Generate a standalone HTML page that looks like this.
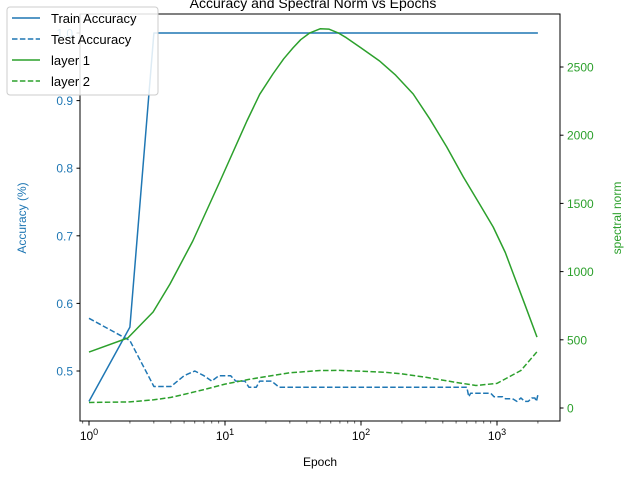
<!DOCTYPE html>
<html><head><meta charset="utf-8"><style>body{margin:0;background:#fff}svg{display:block;font-family:"Liberation Sans","DejaVu Sans",sans-serif}</style></head>
<body>
<svg id="chart" width="640" height="480" viewBox="0 0 640 480" xmlns="http://www.w3.org/2000/svg">
<text x="313" y="8" text-anchor="middle" font-size="14">Accuracy and Spectral Norm vs Epochs</text>
<g id="marks"></g>
<rect x="80" y="14" width="480" height="407" fill="none" stroke="#000" stroke-width="1"/>
<g id="axes" font-size="12"></g>
<text x="320" y="466" text-anchor="middle" font-size="12">Epoch</text>
<text transform="translate(26,218) rotate(-90)" text-anchor="middle" font-size="12" fill="#1f77b4">Accuracy (%)</text>
<text transform="translate(621,218) rotate(-90)" text-anchor="middle" font-size="12" fill="#2ca02c">spectral norm</text>
<g>
<rect x="7" y="7" width="151" height="88" rx="3" fill="#fff" fill-opacity="0.85" stroke="#ccc"/>
<g><line x1="12" y1="18" x2="40" y2="18" stroke="#1f77b4" stroke-width="1.5"/><text x="51" y="23" font-size="13">Train Accuracy</text></g>
<g><line x1="12" y1="39" x2="40" y2="39" stroke="#1f77b4" stroke-width="1.5" stroke-dasharray="5.5,2.4"/><text x="51" y="44" font-size="13">Test Accuracy</text></g>
<g><line x1="12" y1="60" x2="40" y2="60" stroke="#2ca02c" stroke-width="1.5"/><text x="51" y="65" font-size="13">layer 1</text></g>
<g><line x1="12" y1="81" x2="40" y2="81" stroke="#2ca02c" stroke-width="1.5" stroke-dasharray="5.5,2.4"/><text x="51" y="86" font-size="13">layer 2</text></g>
</g>
</svg>
<script>
const trainEpochs=[1,2,3,2000];
const trainAcc=[0.455,0.565,1.0,1.0];
const testEpochs=[1,2,3,4,5,6,7,8,9,10,11,12,14,15,17,18,20,22,25,600,620,640,900,950,1100,1150,1300,1400,1500,1600,1700,1800,1900,1950,2000];
const testAcc=[0.578,0.545,0.477,0.477,0.493,0.5,0.493,0.485,0.493,0.493,0.493,0.485,0.485,0.476,0.476,0.485,0.485,0.485,0.476,0.476,0.462,0.467,0.467,0.462,0.462,0.459,0.459,0.455,0.46,0.455,0.455,0.46,0.46,0.455,0.465];
const l1Epochs=[1,1.93,2.96,3.94,5.8,9.2,14.5,18,22.5,27,31.6,36,42,50,58,68,78,100,137,180,242,320,427,565,750,937,1150,1320,1600,1970];
const layer1=[410,513,704,909,1224,1664,2104,2300,2449,2560,2640,2700,2750,2780,2778,2750,2715,2640,2544,2440,2302,2120,1914,1694,1490,1327,1140,982,760,520];
const normEpochs=[1,2,3,4,5,7,10,15,20,30,50,70,100,150,200,300,500,700,1000,1500,2000];
const layer2=[40,45,60,78,100,135,175,210,230,258,275,276,270,262,250,225,188,165,180,275,420];
const xTicks=[0,1,2,3];
const leftTicks=[0.5,0.6,0.7,0.8,0.9,1.0];
const rightTicks=[0,500,1000,1500,2000,2500];
const NS='http://www.w3.org/2000/svg';
const X=e=>89+136*Math.log10(e);
const YL=v=>371-(v-0.5)*676;
const YR=v=>408-v*0.1364;
const marks=document.getElementById('marks'),axes=document.getElementById('axes');
function mk(t,a,p){const el=document.createElementNS(NS,t);for(const k in a)el.setAttribute(k,a[k]);p.appendChild(el);return el;}
function line(xs,ys,yf,color,dash,name){
  const d=xs.map((e,i)=>(i?'L':'M')+X(e).toFixed(1)+','+yf(ys[i]).toFixed(1)).join(' ');
  const p=mk('path',{d:d,fill:'none',stroke:color,'stroke-width':1.5,'stroke-linejoin':'round'},marks);
  if(dash)p.setAttribute('stroke-dasharray','5.5,2.4');
  
  
}
line(trainEpochs,trainAcc,YL,'#1f77b4',false,'train-accuracy-line');
line(testEpochs,testAcc,YL,'#1f77b4',true,'test-accuracy-line');
line(l1Epochs,layer1,YR,'#2ca02c',false,'layer1-norm-line');
line(normEpochs,layer2,YR,'#2ca02c',true,'layer2-norm-line');
xTicks.forEach(p=>{const x=X(Math.pow(10,p));
  mk('line',{x1:x,y1:421,x2:x,y2:425.5,stroke:'#000'},axes);
  const t=mk('text',{x:x,y:440,'text-anchor':'middle'},axes);
  t.textContent='10';const s=mk('tspan',{dy:-5,'font-size':9},t);s.textContent=String(p);
  
  
});
for(let dec=-1;dec<4;dec++)for(let m=2;m<10;m++){const e=m*Math.pow(10,dec);const x=X(e);if(x<80||x>560)continue;mk('line',{x1:x,y1:421,x2:x,y2:423.5,stroke:'#000','stroke-width':0.6},axes);}
leftTicks.forEach(v=>{const y=YL(v);
  mk('line',{x1:76.5,y1:y,x2:80,y2:y,stroke:'#000'},axes);
  const t=mk('text',{x:73,y:y+4.5,'text-anchor':'end',fill:'#1f77b4'},axes);t.textContent=v.toFixed(1);
  
  
});
rightTicks.forEach(v=>{const y=YR(v);
  mk('line',{x1:560,y1:y,x2:563.5,y2:y,stroke:'#000'},axes);
  const t=mk('text',{x:567,y:y+4.5,fill:'#2ca02c'},axes);t.textContent=String(v);
  
  
});
</script>
</body></html>
